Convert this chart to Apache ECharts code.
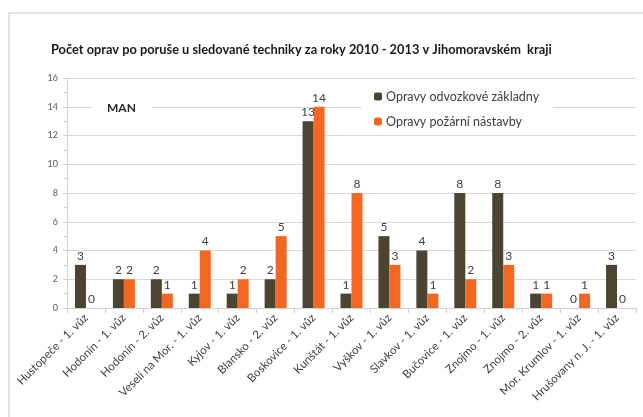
<!DOCTYPE html>
<html>
<head>
<meta charset="utf-8">
<script src="https://cdn.jsdelivr.net/npm/echarts@6/dist/echarts.min.js"></script>
<style>
  html, body { margin: 0; padding: 0; background: #fff; }
  #chart { width: 643px; height: 417px; }
</style>
</head>
<body>
<div id="chart"></div>
<script>
// Vehicle units (district - vehicle number)
const categories = [
  'Hustopeče - 1. vůz', 'Hodonín - 1. vůz', 'Hodonín - 2. vůz',
  'Veselí na Mor. - 1. vůz', 'Kyjov - 1. vůz', 'Blansko - 2. vůz',
  'Boskovice - 1. vůz', 'Kunštát - 1. vůz', 'Vyškov - 1. vůz',
  'Slavkov - 1. vůz', 'Bučovice - 1. vůz', 'Znojmo - 1. vůz',
  'Znojmo - 2. vůz', 'Mor. Krumlov - 1. vůz', 'Hrušovany n. J. - 1. vůz'
];
// Repairs of the chassis
const chassisRepairs = [3, 2, 2, 1, 1, 2, 13, 1, 5, 4, 8, 8, 1, 0, 3];
// Repairs of the fire-fighting superstructure
const superstructureRepairs = [0, 2, 1, 4, 2, 5, 14, 8, 3, 1, 2, 3, 1, 1, 0];
const yTicks = { min: 0, max: 16, interval: 2 };

const FONT = 'Lato, "Open Sans", sans-serif';
const chart = echarts.init(document.getElementById('chart'), null, { renderer: 'canvas' });

const labelStyle = {
  show: true,
  position: 'top',
  distance: 3,
  color: '#404040',
  fontFamily: FONT,
  fontSize: 12
};

chart.setOption({
  animation: false,
  backgroundColor: '#fff',
  textStyle: { fontFamily: FONT },
  graphic: [{
    type: 'rect',
    shape: { x: 9, y: 13, width: 700, height: 500 },
    style: { fill: 'none', stroke: '#d9d9d9', lineWidth: 1.5 },
    silent: true
  }],
  title: [{
    text: 'Počet oprav po poruše u sledované techniky za roky 2010 - 2013 v Jihomoravském  kraji',
    left: 46,
    top: 38,
    textStyle: { fontFamily: FONT, fontSize: 12.8, fontWeight: 'bold', color: '#1a1a1a' }
  }, {
    text: 'MAN',
    left: 92,
    top: 100,
    padding: [2, 16, 2, 15],
    backgroundColor: '#fff',
    textStyle: { fontFamily: FONT, fontSize: 12, fontWeight: 'bold', color: '#262626' }
  }],
  legend: {
    orient: 'vertical',
    left: 362,
    top: 85,
    padding: [5, 14, 5, 12],
    backgroundColor: '#fff',
    itemWidth: 8,
    itemHeight: 8,
    itemGap: 12,
    textStyle: { fontFamily: FONT, fontSize: 12.5, color: '#404040', padding: [0, 0, 0, -1] },
    data: ['Opravy odvozkové základny', 'Opravy požární nástavby']
  },
  grid: { left: 67, right: 7, top: 78, bottom: 109, containLabel: false },
  xAxis: {
    type: 'category',
    data: categories,
    axisLine: { lineStyle: { color: '#d0d0d0', width: 1 } },
    axisTick: { show: true, length: 5, lineStyle: { color: '#d0d0d0' } },
    axisLabel: {
      rotate: 45,
      interval: 0,
      margin: 8,
      fontFamily: FONT,
      fontSize: 11.5,
      color: '#404040'
    }
  },
  yAxis: {
    type: 'value',
    min: yTicks.min,
    max: yTicks.max,
    interval: yTicks.interval,
    axisLine: { show: true, lineStyle: { color: '#d0d0d0' } },
    axisTick: { show: true, length: 4, lineStyle: { color: '#d0d0d0' } },
    minorTick: { show: true, splitNumber: 2, length: 3, lineStyle: { color: '#d0d0d0' } },
    splitLine: { show: true, lineStyle: { color: '#d9d9d9', width: 1 } },
    axisLabel: { fontFamily: FONT, fontSize: 9, color: '#595959', margin: 9 }
  },
  series: [{
    name: 'Opravy odvozkové základny',
    type: 'bar',
    data: chassisRepairs,
    barWidth: 11,
    barGap: '0%',
    itemStyle: { color: '#4a4430' },
    label: labelStyle
  }, {
    name: 'Opravy požární nástavby',
    type: 'bar',
    data: superstructureRepairs,
    barWidth: 11,
    barGap: '0%',
    itemStyle: { color: '#f26822' },
    label: labelStyle
  }]
});
</script>
</body>
</html>
